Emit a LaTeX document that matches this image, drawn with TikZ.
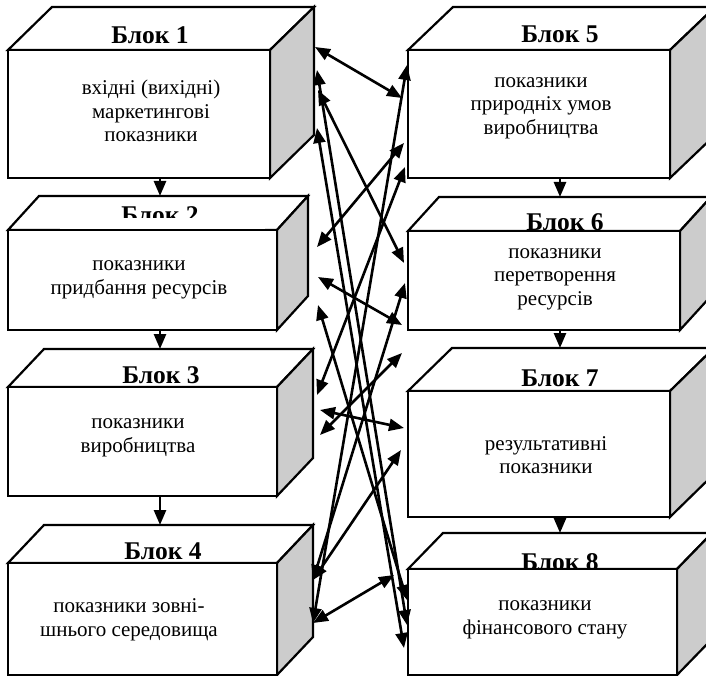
\documentclass[tikz,border=0pt]{standalone}
\usepackage{fontspec}
\setmainfont{Liberation Serif}
\usetikzlibrary{arrows.meta,calc}
\definecolor{sidegray}{RGB}{204,204,204}
\newcommand\blockbox[8]{% name, x1, y1, x2, y2, dx, dy, title-pos
  \draw[face] (#2,#3) -- (#2+#6,#3-#7) -- (#4+#6,#3-#7) -- (#4,#3) -- cycle;
  \draw[face,fill=sidegray] (#4,#3) -- (#4+#6,#3-#7) -- (#4+#6,#5-#7) -- (#4,#5) -- cycle;
  \node[title] at #8 {Блок \mbox{#1}};
}
\newcommand\frontface[5]{% name, x1, y1, x2, y2
  \path[face] (#2,#3) rectangle (#4,#5);
  \node[inner sep=0, minimum width=#4-#2, minimum height=#5-#3] (#1) at ({(#2+#4)/2},{(#3+#5)/2}) {};
}
\begin{document}
\begin{tikzpicture}[x=1pt,y=-1pt,
  face/.style={draw=black, fill=white, line width=2.2pt, line join=miter},
  title/.style={font=\fontsize{25.5}{27}\selectfont\bfseries, anchor=base, inner sep=0},
  body/.style={font=\fontsize{21}{23.5}\selectfont, align=center, inner sep=0},
  link/.style={line width=2.6pt, {Triangle[length=15pt,width=12pt]}-{Triangle[length=15pt,width=12pt]}},
  down/.style={line width=2.6pt, -{Triangle[length=15pt,width=12pt]}}]
\useasboundingbox (0,0) rectangle (706,676);
\clip (0,0) rectangle (706,676);
% left column
\blockbox{1}{8}{50}{270}{178}{44}{43}{(150,44)}
\frontface{L1}{8}{50}{270}{178}
\blockbox{2}{8}{230}{277}{330}{31}{34}{(160,224)}
\fill[white] (60,218) rectangle (265,229);
\frontface{L2}{8}{230}{277}{330}
\blockbox{3}{8}{387}{277}{496}{36}{38}{(161,383)}
\frontface{L3}{8}{387}{277}{496}
\blockbox{4}{8}{563}{277}{675}{36}{38}{(163,559)}
\frontface{L4}{8}{563}{277}{675}
% right column
\blockbox{5}{408}{50}{670}{178}{45}{43}{(560,43)}
\frontface{R5}{408}{50}{670}{178}
\blockbox{6}{408}{231}{680}{330}{31}{34}{(565,231)}
\frontface{R6}{408}{231}{680}{330}
\blockbox{7}{408}{391}{670}{517}{44}{43}{(560,386)}
\frontface{R7}{408}{391}{670}{517}
\blockbox{8}{408}{569}{677}{675}{35}{36}{(560,570)}
\frontface{R8}{408}{569}{677}{675}
% texts
\node[body] (t1) at (151,111) {вхідні (вихідні)\\маркетингові\\показники};
\node[body] (t5) at (541,108) {показники\\природніх умов\\виробництва};
\node[body] (t2) at (139,280) {показники\\придбання ресурсів};
\node[body] (t6) at (555,279) {показники\\перетворення\\ресурсів};
\node[body] (t3) at (138,438) {показники\\виробництва};
\node[body] (t7) at (546,455) {результативні\\показники};
\node[body] (t4) at (129,620) {показники зовні-\\шнього середовища};
\node[body] (t8) at (545,620) {показники\\фінансового стану};
% vertical arrows
\coordinate (v12) at (160,196);
\coordinate (v23) at (160,349);
\coordinate (v34) at (160,525);
\coordinate (v56) at (560,197);
\coordinate (v67) at (560,348);
\coordinate (v78) at (560,533);
\draw[down] (L1.south -| v12) -- (v12);
\draw[down] (L2.south -| v23) -- (v23);
\draw[down] (L3.south -| v34) -- (v34);
\draw[down] (R5.south -| v56) -- (v56);
\draw[down] (R6.south -| v67) -- (v67);
\draw[down] (R7.south -| v78) -- (v78);
% connector end points
\coordinate (a1) at (315,47);  \coordinate (a2) at (317,70);
\coordinate (a3) at (318,90);  \coordinate (a4) at (317,128);
\coordinate (b1) at (317,247); \coordinate (b2) at (318,277);
\coordinate (b3) at (318,305);
\coordinate (c1) at (317,395); \coordinate (c2) at (320,410);
\coordinate (c3) at (320,435);
\coordinate (d1) at (313,580); \coordinate (d2) at (313,623);
\coordinate (e1) at (407,65);  \coordinate (e2) at (402,98);
\coordinate (e3) at (404,143); \coordinate (e4) at (405,167);
\coordinate (f1) at (404,263); \coordinate (f2) at (405,283);
\coordinate (f3) at (402,325);
\coordinate (g1) at (402,353); \coordinate (g2) at (404,428);
\coordinate (g3) at (401,450);
\coordinate (h1) at (394,575); \coordinate (h2) at (407,600);
\coordinate (h3) at (407,625); \coordinate (h4) at (404,648);
% cross links
\draw[link] (a1) -- (e2);
\draw[link] (a2) -- (h3);
\draw[link] (a3) -- (f1);
\draw[link] (a4) -- (h4);
\draw[link] (b1) -- (e3);
\draw[link] (b2) -- (f3);
\draw[link] (b3) -- (h2);
\draw[link] (c1) -- (e4);
\draw[link] (c2) -- (g2);
\draw[link] (c3) -- (g1);
\draw[link] (d1) -- (g3);
\draw[link] (d1) -- (f2);
\draw[link] (d2) -- (h1);
\draw[link] (d2) -- (e1);
\end{tikzpicture}
\end{document}
